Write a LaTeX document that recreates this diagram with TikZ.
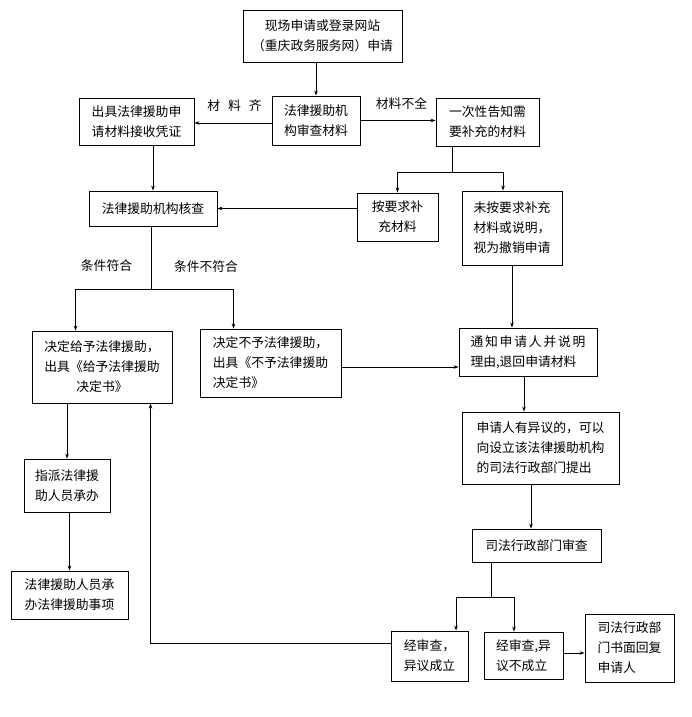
\documentclass[tikz,border=0pt]{standalone}
\usepackage{fontspec}
\setmainfont{Noto Sans CJK SC}
\usetikzlibrary{arrows.meta}
\newcommand\gapx{\hspace{1.8pt}}
\begin{document}
\begin{tikzpicture}[x=1pt,y=-1pt,
  box/.style={draw,line width=0.9pt,inner sep=0pt,align=center,font=\fontsize{12.8}{20}\selectfont},
  lbox/.style={box,align=left},
  lab/.style={inner sep=0pt,font=\fontsize{12.8}{20}\selectfont},
  conn/.style={line width=0.75pt},
  arr/.style={conn,-{Stealth[length=5pt,width=3.6pt]}}]
\fill[white] (0,0) rectangle (691,717);
\useasboundingbox (0,0) rectangle (691,717);
% boxes
\node[box,minimum width=159pt,minimum height=52pt] (A) at (322.5,36) {现场申请或登录网站\\（重庆政务服务网）申请};
\node[lbox,minimum width=88pt,minimum height=49pt] (B) at (316,120.5) {法律援助机\\构审查材料};
\node[lbox,minimum width=115pt,minimum height=47pt] (C) at (136.5,121.5) {出具法律援助申\\请材料接收凭证};
\node[lbox,minimum width=103pt,minimum height=48pt] (D) at (487.5,122) {一次性告知需\\要补充的材料};
\node[box,minimum width=128pt,minimum height=35pt] (E) at (153,208.5) {法律援助机构核查};
\node[box,minimum width=81pt,minimum height=48pt] (F) at (397.5,217) {按要求补\\充材料};
\node[box,minimum width=100pt,minimum height=74pt] (G) at (512,228) {未按要求补充\\材料或说明，\\视为撤销申请};
\node[box,minimum width=140pt,minimum height=72pt] (H) at (102,367) {决定给予法律援助，\\出具《给予法律援助\\决定书》};
\node[lbox,minimum width=141pt,minimum height=68pt] (I) at (270.5,363) {决定不予法律援助，\\出具《不予法律援助\\决定书》};
\node[lbox,minimum width=138pt,minimum height=48pt] (J) at (528,352) {通\gapx 知\gapx 申\gapx 请\gapx 人\gapx 并\gapx 说\gapx 明\\理由,退回申请材料};
\node[lbox,minimum width=157pt,minimum height=72pt] (K) at (540.5,448) {申请人有异议的，可以\\向设立该法律援助机构\\的司法行政部门提出};
\node[lbox,minimum width=86pt,minimum height=53pt] (L) at (67,485.5) {指派法律援\\助人员承办};
\node[lbox,minimum width=117pt,minimum height=48pt] (M) at (69.5,595) {法律援助人员承\\办法律援助事项};
\node[box,minimum width=129pt,minimum height=33pt] (N) at (536.5,545.5) {司法行政部门审查};
\node[lbox,minimum width=77pt,minimum height=50pt] (O) at (429.5,656) {经审查，\\异议成立};
\node[lbox,minimum width=79pt,minimum height=47pt] (P) at (523.5,655.5) {经审查,异\\议不成立};
\node[lbox,minimum width=89pt,minimum height=68pt] (Q) at (629.5,648) {司法行政部\\门书面回复\\申请人};
% labels
\node[lab] (l1) at (234.5,106) {材\hspace{8pt}料\hspace{8pt}齐};
\node[lab] (l2) at (401.5,104) {材料不全};
\node[lab] (l3) at (106.5,266) {条件符合};
\node[lab] (l4) at (206,267) {条件不符合};
% connectors
\draw[arr] (A.south -| B.north) -- (B.north);
\draw[arr] ([yshift=-2.5pt]B.west) -- ([yshift=-2.5pt]B.west -| C.east);
\draw[arr] (B.east) -- (B.east -| D.west);
\draw[conn] ([xshift=-35.5pt]D.south) -- ++(0,26) coordinate (dj);
\draw[arr] (dj) -| (F.north);
\draw[arr] (dj) -| ([xshift=-9pt]G.north);
\draw[arr] (C.south -| E.north) -- (E.north);
\draw[arr] (F.west |- E.east) -- (E.east);
\draw[conn] ([xshift=-2pt]E.south) -- ++(0,63) coordinate (ej);
\draw[arr] (ej) -| ([xshift=44pt]H.north west);
\draw[arr] (ej) -| ([xshift=34pt]I.north west);
\draw[arr] (G.south) -- (G.south |- J.north);
\draw[arr] ([yshift=-4pt]I.east) -- ([yshift=-4pt]I.east -| J.west);
\draw[arr] ([xshift=-4pt]J.south) -- ([xshift=-4pt]J.south |- K.north);
\draw[arr] ([xshift=-9.5pt]K.south) -- ([xshift=-9.5pt]K.south |- N.north);
\draw[arr] (L.north |- H.south) -- (L.north);
\draw[arr] (M.north |- L.south) -- (M.north);
\draw[conn] ([xshift=-45.5pt]N.south) -- ++(0,35) coordinate (nj);
\draw[arr] (nj) -| ([xshift=26.5pt]O.north);
\draw[arr] (nj) -| ([xshift=-9.5pt]P.north);
\draw[arr] ([yshift=2.5pt]P.east) -- ([yshift=2.5pt]P.east -| Q.west);
\draw[arr] ([yshift=13pt]O.west) -| ([xshift=119pt]H.south west);
\end{tikzpicture}
\end{document}
